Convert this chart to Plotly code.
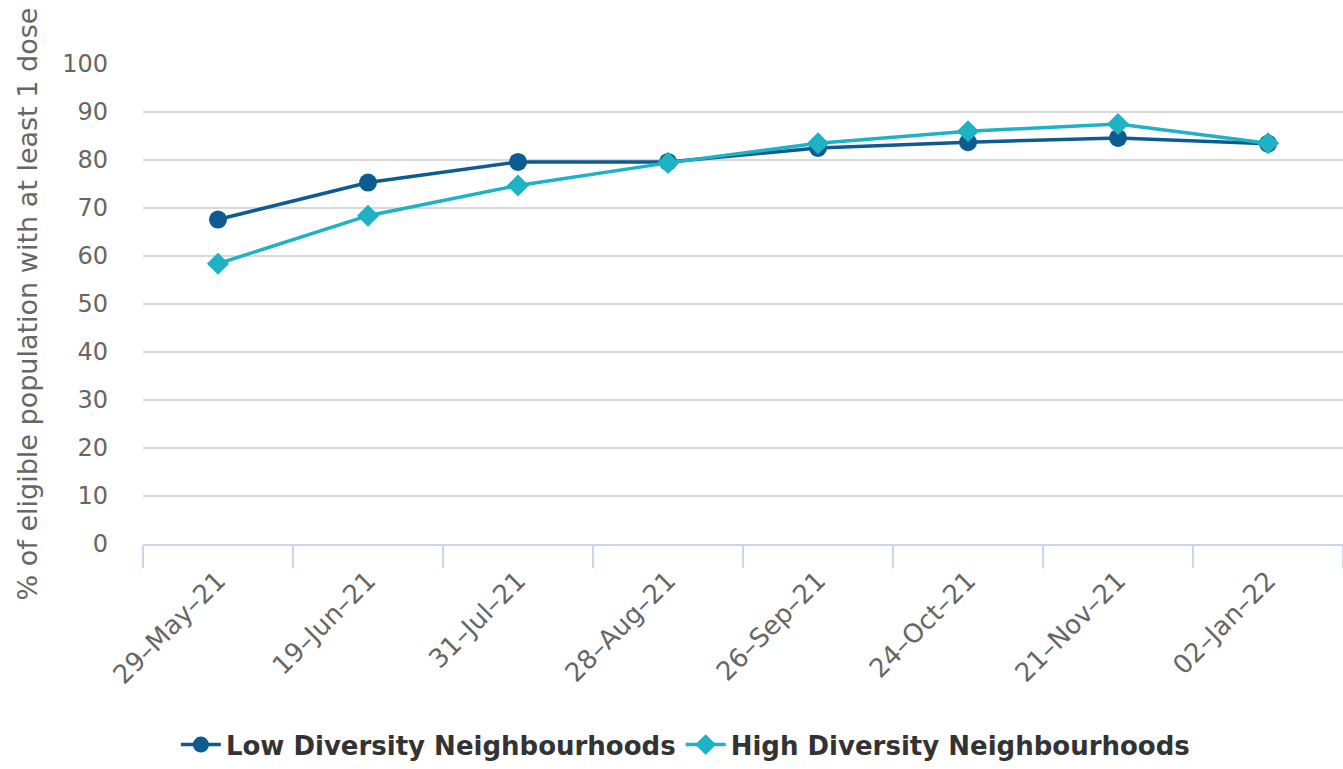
import plotly.graph_objects as go

categories = ["29–May–21", "19–Jun–21", "31–Jul–21", "28–Aug–21",
              "26–Sep–21", "24–Oct–21", "21–Nov–21", "02–Jan–22"]
low_diversity = [67.6, 75.3, 79.6, 79.6, 82.5, 83.7, 84.6, 83.4]
high_diversity = [58.4, 68.4, 74.7, 79.4, 83.5, 86.0, 87.5, 83.5]
y_ticks = [0, 10, 20, 30, 40, 50, 60, 70, 80, 90, 100]

FONT = "DejaVu Sans"
fig = go.Figure()
fig.add_trace(go.Scatter(
    x=categories, y=low_diversity, name="Low Diversity Neighbourhoods",
    mode="lines+markers",
    line=dict(color="#0d5c91", width=3.5),
    marker=dict(symbol="circle", size=18, color="#0d5c91"),
))
fig.add_trace(go.Scatter(
    x=categories, y=high_diversity, name="High Diversity Neighbourhoods",
    mode="lines+markers",
    line=dict(color="#1db2c4", width=3.5),
    marker=dict(symbol="diamond", size=17, color="#1db2c4"),
))

fig.update_layout(
    width=1343, height=769,
    margin=dict(l=143, r=0, t=64, b=225),
    paper_bgcolor="white", plot_bgcolor="white",
    font=dict(family=FONT, color="#666666"),
    showlegend=True,
    legend=dict(orientation="h", x=0.452, xanchor="center", y=-0.467, yanchor="bottom",
                yref="paper",
                font=dict(family=FONT, size=26, color="#333333", weight="bold"),
                itemwidth=40, tracegroupgap=0),
    xaxis=dict(
        type="category", range=[-0.5, 7.5], automargin=False,
        tickson="boundaries", ticks="outside", ticklen=22, tickcolor="#ccd6eb", tickwidth=2,
        showline=True, linecolor="#ccd6eb", linewidth=2,
        showgrid=False, tickangle=-45,
        tickfont=dict(family=FONT, size=26, color="#666666"),
        ticklabelstandoff=9,
        fixedrange=True,
    ),
    yaxis=dict(
        range=[0, 100], tickvals=y_ticks, ticktext=[str(v) for v in y_ticks],
        automargin=False,
        showgrid=True, gridcolor="#d9d9d9", gridwidth=1.5,
        zeroline=False, showline=False,
        tickfont=dict(family=FONT, size=24, color="#666666"),
        ticks="", ticklabelstandoff=34,
        title=dict(text="% of eligible population with at least 1 dose",
                   font=dict(family=FONT, size=27, color="#666666"), standoff=16),
    ),
)

fig.write_html("out.html")
